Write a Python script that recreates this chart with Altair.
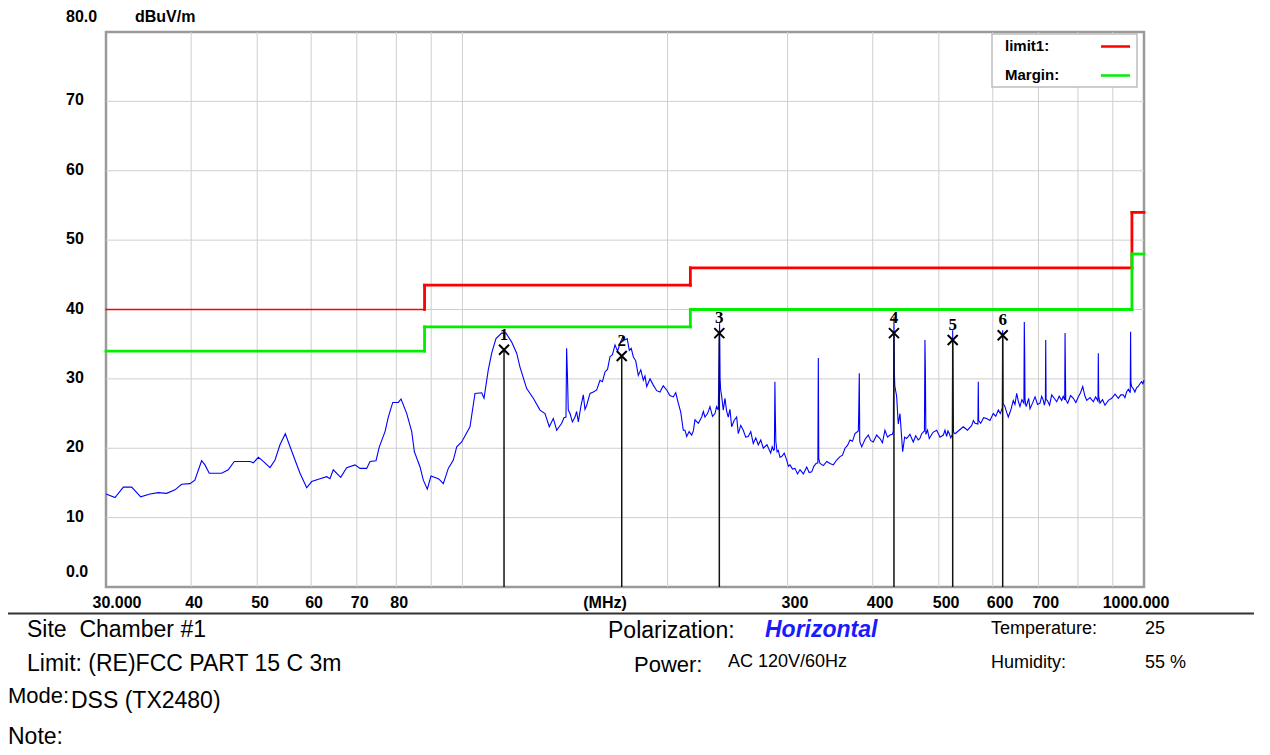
import altair as alt
import pandas as pd

# ---------------- data (frequency in MHz, level in dBuV/m) ----------------
freq_a = [30.0, 30.93, 31.81, 32.72, 33.73, 34.81, 35.80, 36.83, 37.87, 38.74, 39.85, 40.5, 41.44, 41.91,
          42.52, 44.34, 45.34, 46.27, 48.80, 49.35, 50.19, 51.04, 52.21, 53.10, 54.00, 54.98, 55.54, 56.81,
          57.78, 59.10, 60.1, 61.81, 63.23, 63.93, 64.65, 66.29, 67.64, 69.58, 70.76, 72.38, 73.19, 74.69,
          75.53, 77.0, 77.86, 79.03, 80.54, 81.28, 82.86, 84.27, 85.02, 86.67, 87.64, 88.82, 89.93, 92.18,
          92.72, 93.76, 95.35, 96.98, 98.10, 99.76]
level_a = [13.4, 12.9, 14.4, 14.4, 13.0, 13.4, 13.6, 13.5, 14.0, 14.8, 14.9, 15.4, 18.2, 17.6,
           16.4, 16.4, 16.9, 18.1, 18.1, 17.9, 18.7, 18.1, 17.2, 18.3, 20.5, 22.1, 20.9, 18.3,
           16.4, 14.3, 15.2, 15.6, 15.9, 15.6, 16.9, 15.8, 17.2, 17.6, 17.1, 17.1, 18.1, 18.2,
           20.2, 22.4, 24.5, 26.6, 26.6, 27.1, 25.0, 22.4, 19.5, 17.3, 15.4, 14.1, 16.0, 15.6,
           15.4, 14.9, 17.1, 18.3, 20.2, 20.9]

freq_b = [102.6, 104.35, 106.74, 107.57, 109.14, 110.40, 112.02, 114.20, 115.87, 118.12, 120.13, 121.48,
          124.26, 127.06, 129.98, 132.18, 134.12, 135.95, 137.52, 139.86, 140.95, 141.9, 142.2, 142.6, 143.0,
          143.84, 145.0, 146.29, 147.1, 147.93, 149.2, 150.45, 151.3, 152.19, 153.9, 155.63, 157.4, 159.19,
          160.5, 161.90, 163.3, 164.65, 166.0, 167.46, 168.9, 170.31, 171.8, 173.21, 174.5, 175.74, 176.9,
          178.13, 179.6, 181.17, 182.7, 184.26, 185.3, 186.39, 188.5, 190.59, 192.8, 194.93, 197.1, 199.4,
          201.6, 203.89, 205.6, 207.36, 209.1, 210.90, 212.1, 213.33, 215.1, 216.97, 218.2, 219.40, 221.9,
          224.42, 225.7, 226.93, 228.9, 230.79, 232.8, 234.72, 236.0, 237.4]
level_b = [23.1, 27.9, 28.0, 27.2, 31.3, 33.7, 35.8, 36.6, 36.6, 35.3, 33.7, 31.7,
           28.6, 27.2, 25.5, 25.0, 23.1, 24.3, 22.6, 23.6, 24.4, 24.5, 34.4, 30.5, 25.5,
           25.0, 23.8, 24.5, 25.3, 23.8, 26.0, 27.7, 25.6, 26.2, 27.9, 28.1, 28.4, 29.8,
           29.6, 31.0, 31.4, 33.2, 33.5, 34.9, 34.0, 35.1, 36.0, 35.6, 35.8, 34.1, 34.4,
           33.2, 32.6, 30.5, 31.3, 29.8, 30.4, 28.9, 30.0, 29.1, 28.3, 28.1, 29.0, 28.4,
           27.6, 27.4, 28.0, 26.5, 25.2, 22.6, 22.6, 21.7, 22.4, 21.9, 22.5, 24.1, 23.6,
           24.5, 25.3, 24.5, 25.0, 26.0, 24.6, 25.0, 26.0, 25.5]

freq_c = [237.9, 238.4, 238.8, 239.3, 240.1, 241.39, 242.79, 244.1, 245.51, 246.9, 248.34, 250.4, 252.57,
          253.94, 256.1, 258.27, 260.4, 262.67, 264.9, 267.15, 269.4, 271.70, 274.0, 276.33, 279.8, 283.33,
          284.8, 286.2, 286.9, 287.4, 287.8, 288.3, 289.5, 290.68, 292.4, 294.08, 296.6, 299.09, 300.8,
          302.44, 305.0, 307.59, 310.2, 312.83, 316.4, 320.0, 322.7, 325.45, 327.8, 330.21, 332.3, 332.8,
          333.3, 334.72, 338.5, 342.37, 346.2, 350.09, 354.1, 358.09, 361.1, 364.19, 367.3, 370.40, 373.5,
          376.71, 381.0, 381.6, 382.2, 382.8, 385.36, 389.7, 394.0, 397.3, 400.7, 405.3, 409.85, 413.3,
          416.83, 420.4, 423.93, 427.5, 428.8, 429.3, 429.7, 430.3, 430.9, 433.6, 436.0, 438.5, 442.5,
          445.5, 448.5, 453.5, 458.65, 462.5, 466.46, 469.1, 471.86, 476.3, 477.1, 477.8]
level_c = [32.5, 38.0, 30.0, 28.4, 27.5, 25.5, 27.2, 25.4, 24.5, 25.6, 23.1, 24.0, 24.5,
           22.1, 23.3, 22.6, 21.6, 21.7, 22.4, 20.7, 21.5, 20.5, 21.2, 20.0, 20.5, 19.3,
           20.2, 19.7, 19.8, 29.6, 25.0, 21.0, 19.5, 19.7, 18.7, 18.8, 19.3, 18.3, 17.4,
           17.6, 17.0, 17.1, 16.3, 16.9, 16.3, 17.3, 16.5, 16.6, 17.4, 17.8, 17.9, 33.0,
           18.5, 17.8, 17.5, 18.1, 17.8, 17.6, 18.3, 18.8, 19.0, 20.0, 20.4, 21.2, 21.0,
           22.1, 22.5, 26.0, 30.8, 21.0, 20.2, 21.3, 21.9, 21.1, 20.9, 21.9, 21.4, 20.8,
           22.6, 21.6, 21.9, 22.0, 22.5, 33.0, 38.9, 31.0, 29.0, 27.5, 23.5, 25.0, 19.5,
           21.6, 21.4, 22.0, 20.9, 21.8, 21.2, 21.4, 22.1, 22.5, 35.6, 31.3]

freq_d = [478.6, 481.3, 484.14, 490.3, 496.46, 502.0, 507.66, 510.5, 513.35, 515.7, 518.06, 520.6, 523.3,
          524.0, 524.7, 525.4, 528.12, 535.6, 543.14, 550.9, 558.76, 561.9, 565.04, 570.6, 571.3, 572.0,
          575.97, 581.8, 587.76, 594.3, 601.0, 606.1, 611.26, 615.4, 619.6, 620.4, 621.2, 625.24, 628.7,
          632.26, 637.6, 643.03, 646.7, 650.4, 654.0, 657.7, 662.0, 666.5, 667.4, 668.2, 669.0, 671.5,
          674.2, 677.3, 680.4, 686.2, 692.1, 697.9, 703.8, 707.7, 711.7, 714.2, 716.7, 717.5, 718.4,
          721.4, 726.8, 732.2, 738.4, 744.6, 750.9, 757.3, 761.1, 765.0, 765.9, 766.8, 767.7, 772.9,
          780.3, 787.7, 794.3, 800.9, 807.0, 813.1, 818.6, 824.1, 833.3, 842.6, 849.3, 856.0, 857.0,
          858.0, 861.9, 869.2, 876.6, 886.6, 896.7, 906.8, 916.9, 924.5, 932.1, 937.5, 942.9, 948.7,
          954.6, 955.7, 956.8, 959.0, 964.3, 969.7, 975.1, 980.6, 986.2, 991.9, 996.0, 1000.0]
level_d = [22.0, 22.6, 21.4, 22.3, 22.6, 21.6, 21.9, 22.6, 21.7, 22.5, 22.1, 21.5, 22.0,
           37.0, 28.9, 22.3, 22.1, 22.6, 23.1, 22.6, 23.3, 24.0, 23.6, 23.5, 29.6, 24.0,
           23.6, 24.4, 24.3, 24.0, 25.0, 24.6, 25.5, 25.0, 25.8, 37.0, 26.5, 26.0, 25.2,
           24.5, 25.5, 26.9, 26.3, 27.9, 26.8, 26.0, 27.0, 26.5, 38.2, 34.1, 27.0, 26.0,
           26.5, 27.2, 25.7, 26.5, 27.4, 26.3, 26.5, 27.5, 26.9, 26.2, 26.9, 35.6, 27.0,
           26.9, 26.2, 27.7, 27.2, 26.7, 27.5, 26.9, 27.5, 27.0, 36.6, 31.3, 27.0, 26.5,
           27.6, 27.2, 26.6, 27.4, 28.0, 28.9, 27.6, 26.9, 27.3, 26.7, 27.4, 26.8, 33.7,
           27.5, 26.5, 27.0, 26.2, 26.9, 27.2, 27.8, 27.2, 27.7, 27.7, 27.3, 28.1, 28.5,
           28.0, 36.8, 29.5, 28.9, 28.6, 28.1, 28.7, 28.9, 29.3, 29.6, 29.3, 29.8]

limit_edges = [30, 88, 216, 960, 1000]
limit_levels = [40, 43.5, 46, 54]
margin_levels = [34, 37.5, 40, 48]
series_names = ["limit1:", "Margin:"]

marker_id = ["1", "2", "3", "4", "5", "6"]
marker_f = [115.1, 171.3, 238.2, 429.7, 524.0, 620.4]
marker_v = [34.2, 33.3, 36.6, 36.6, 35.6, 36.3]

x_grid = [40, 50, 60, 70, 80, 90, 100, 200, 300, 400, 500, 600, 700, 800, 900]
y_grid = [10, 20, 30, 40, 50, 60, 70]
x_tick_vals = [40, 50, 60, 70, 80, 300, 400, 500, 600, 700]
x_tick_text = ["40", "50", "60", "70", "80", "300", "400", "500", "600", "700"]
x_end_vals = [30, 1000]
x_end_text = ["30.000", "1000.000"]
y_tick_vals = [70, 60, 50, 40, 30, 20, 10]
y_tick_text = ["70", "60", "50", "40", "30", "20", "10"]
y_end_vals = [80, 0]
y_end_text = ["80.0", "0.0"]

freq = freq_a + freq_b + freq_c + freq_d
level = level_a + level_b + level_c + level_d
assert len(freq) == len(level)

# ---------------- chart ----------------
W, H = 1038, 555
FONT = "Liberation Sans"
xs = alt.Scale(type="log", domain=[30, 1000])
ys = alt.Scale(domain=[0, 80])


def X(field="f"):
    return alt.X(f"{field}:Q", scale=xs, axis=None)


def Y(field="v"):
    return alt.Y(f"{field}:Q", scale=ys, axis=None)


def txt(s, x, y, size, weight="normal", style="normal", color="black", font=FONT,
        align="left", baseline="alphabetic"):
    return alt.Chart(alt.Data(values=[{"t": s}])).mark_text(
        align=align, baseline=baseline, fontSize=size, fontWeight=weight,
        fontStyle=style, color=color, font=font
    ).encode(x=alt.value(x), y=alt.value(y), text="t:N")


def steps(edges, levels):
    rows = []
    for i, lv in enumerate(levels):
        rows.append({"f": edges[i], "f2": edges[i + 1], "v": lv, "v2": lv})
        if i + 1 < len(levels):
            rows.append({"f": edges[i + 1], "f2": edges[i + 1], "v": lv, "v2": levels[i + 1]})
    return pd.DataFrame(rows)


trace_df = pd.DataFrame({"f": freq, "v": level})
mk_df = pd.DataFrame({"f": marker_f, "v": marker_v, "id": marker_id})

vgrid = alt.Chart(pd.DataFrame({"f": x_grid})).mark_rule(color="#cfcfcf", strokeWidth=1).encode(x=X())
hgrid = alt.Chart(pd.DataFrame({"v": y_grid})).mark_rule(color="#cfcfcf", strokeWidth=1).encode(y=Y())

lim_df = steps(limit_edges, limit_levels)
mar_df = steps(limit_edges, margin_levels)

limit = alt.Chart(lim_df).mark_rule(color="#ff0000", strokeCap="square").encode(
    x=X(), x2="f2:Q", y=Y(), y2="v2:Q",
    strokeWidth=alt.condition("datum.v == 40 && datum.v2 == 40", alt.value(1.3), alt.value(2.8)),
)
margin = alt.Chart(mar_df).mark_rule(color="#00ee00", strokeWidth=2.8, strokeCap="square").encode(
    x=X(), x2="f2:Q", y=Y(), y2="v2:Q"
)

trace = alt.Chart(trace_df).mark_line(color="#0000ff", strokeWidth=1.1).encode(x=X(), y=Y())

mk_lines = alt.Chart(mk_df).mark_rule(color="#111111", strokeWidth=1.5).encode(
    x=X(), y=Y(), y2=alt.value(H)
)
mk_x = alt.Chart(mk_df).mark_point(
    shape="M-1,-1L1,1M-1,1L1,-1", size=100, filled=False, color="black", strokeWidth=2, opacity=1
).encode(x=X(), y=Y())
mk_num = alt.Chart(mk_df).mark_text(
    font="Liberation Serif", fontSize=17, fontWeight="bold", dy=-15, baseline="middle", color="black"
).encode(x=X(), y=Y(), text="id:N")

ylab = alt.Chart(pd.DataFrame({"v": y_tick_vals, "t": y_tick_text})).mark_text(
    font=FONT, fontSize=16, fontWeight="bold", align="left", baseline="middle", dy=-1
).encode(x=alt.value(-40), y=Y(), text="t:N")
ylab_end = alt.Chart(pd.DataFrame({"v": y_end_vals, "t": y_end_text})).mark_text(
    font=FONT, fontSize=16, fontWeight="bold", align="left", baseline="middle", dy=-15
).encode(x=alt.value(-40), y=Y(), text="t:N")

xlab = alt.Chart(pd.DataFrame({"f": x_tick_vals, "t": x_tick_text})).mark_text(
    font=FONT, fontSize=16, fontWeight="bold", align="left", baseline="middle", dx=-6
).encode(x=X(), y=alt.value(H + 16), text="t:N")
xl0 = alt.Chart(pd.DataFrame({"f": x_end_vals[:1], "t": x_end_text[:1]})).mark_text(
    font=FONT, fontSize=16, fontWeight="bold", align="center", baseline="middle", dx=11
).encode(x=X(), y=alt.value(H + 16), text="t:N")
xl1 = alt.Chart(pd.DataFrame({"f": x_end_vals[1:], "t": x_end_text[1:]})).mark_text(
    font=FONT, fontSize=16, fontWeight="bold", align="center", baseline="middle", dx=-8
).encode(x=X(), y=alt.value(H + 16), text="t:N")
mhz = txt("(MHz)", 499, H + 16, 16, weight="bold", align="center", baseline="middle")
unit = txt("dBuV/m", 29, -15, 16, weight="bold", baseline="middle")

# legend box
leg_box = alt.Chart(alt.Data(values=[{}])).mark_rect(fill="white", stroke="#bdbdbd", strokeWidth=1.5).encode(
    x=alt.value(886), x2=alt.value(1031), y=alt.value(2), y2=alt.value(55)
)
leg_t1 = txt(series_names[0], 899, 14, 15, weight="bold", baseline="middle")
leg_t2 = txt(series_names[1], 899, 43, 15, weight="bold", baseline="middle")
leg_l1 = alt.Chart(alt.Data(values=[{}])).mark_rule(color="#ff0000", strokeWidth=2.5).encode(
    x=alt.value(995), x2=alt.value(1024), y=alt.value(14.5))
leg_l2 = alt.Chart(alt.Data(values=[{}])).mark_rule(color="#00ee00", strokeWidth=2.5).encode(
    x=alt.value(995), x2=alt.value(1024), y=alt.value(43.5))

# footer
sep = alt.Chart(alt.Data(values=[{}])).mark_rule(color="#333333", strokeWidth=2).encode(
    x=alt.value(-98), x2=alt.value(1152), y=alt.value(581.5))
NB = "\u00a0"
footer = [
    txt("Site" + NB + NB + "Chamber #1", -79, 605, 23),
    txt("Limit: (RE)FCC PART 15 C 3m", -79, 639, 23),
    txt("Mode:", -98, 671, 22),
    txt("DSS (TX2480)", -35, 676, 23),
    txt("Note:", -98, 712, 23),
    txt("Polarization:", 502, 606, 23),
    txt("Horizontal", 659, 605, 23, weight="bold", style="italic", color="#1a1aff"),
    txt("Temperature:", 885, 602, 18),
    txt("25", 1039, 602, 18),
    txt("Power:", 528, 640, 22),
    txt("AC 120V/60Hz", 622, 635, 18),
    txt("Humidity:", 885, 636, 18),
    txt("55 %", 1039, 636, 18),
]

chart = alt.layer(
    vgrid, hgrid, limit, margin, trace, mk_lines, mk_x, mk_num,
    ylab, ylab_end, xlab, xl0, xl1, mhz, unit,
    leg_box, leg_l1, leg_l2, leg_t1, leg_t2, sep, *footer
).properties(
    width=W, height=H,
    autosize=alt.AutoSizeParams(type="none"),
    padding={"left": 98, "top": 24, "right": 110, "bottom": 165},
).configure_view(stroke="#9a9a9a", strokeWidth=2.5)

chart.save("out.html", embed_options={"renderer": "svg", "actions": False})
